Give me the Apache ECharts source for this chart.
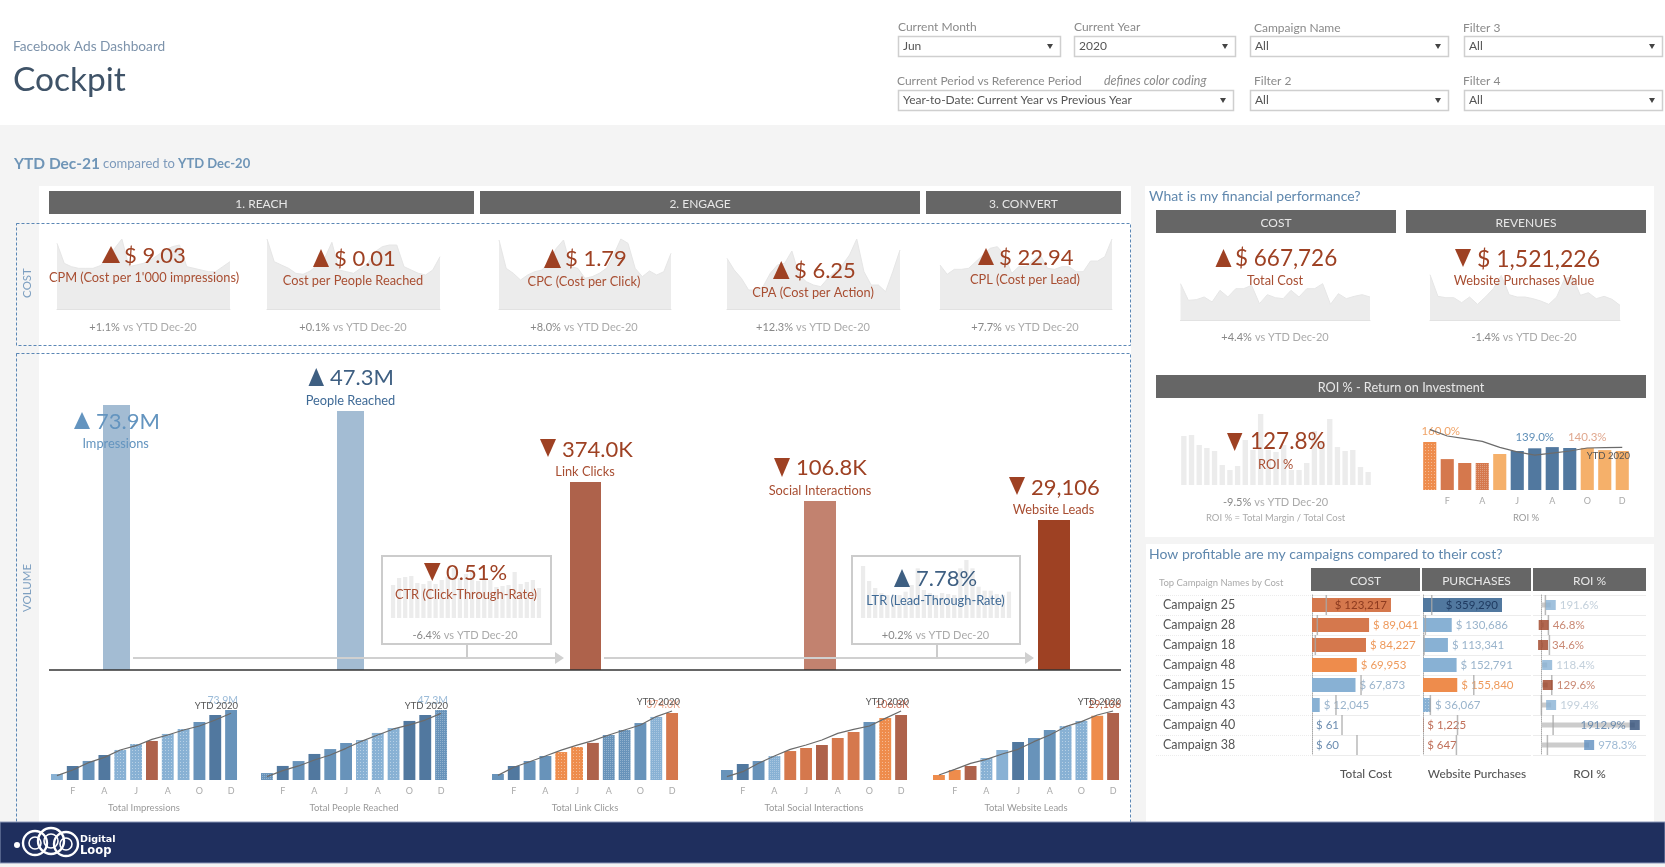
<!DOCTYPE html>
<html><head><meta charset="utf-8">
<script src="https://cdn.jsdelivr.net/npm/echarts@6/dist/echarts.min.js"></script>
<style>html,body{margin:0;padding:0;background:#f4f4f4}#c{width:1665px;height:867px}</style>
</head><body><div id="c"></div>
<script>
// ---------- DATA ----------
const months = ['J','F','M','A','M','J','J','A','S','O','N','D'];
const sparkIdx = ['1','2','3','4','5','6','7','8','9','10','11','12','13','14','15','16','17','18','19','20','21','22','23','24','25'];
// cost sparklines (relative level)
const sparkCPM = [197,137,127,122,122,122,130,152,182,210,127,132,137,147,162,177,187,192,127,122,117,112,112,127,142];
const sparkCPP = [210,142,132,122,107,104,114,132,152,200,117,112,107,122,137,172,187,192,192,127,117,107,102,117,157];
const sparkCPC = [207,122,107,87,102,112,117,142,182,207,127,122,92,97,107,122,162,210,197,122,97,114,102,112,167];
const sparkCPA = [152,117,92,57,57,67,107,132,137,174,102,82,72,67,92,112,132,162,210,112,72,72,52,112,177];
const sparkCPL = [132,104,119,119,122,142,162,182,187,162,107,127,127,147,162,122,119,127,127,112,112,144,144,157,210];
const sparkCost = [109,59,61,69,54,89,69,94,94,104,49,76,67,64,89,69,94,94,109,47,79,64,71,76,69];
const sparkRev = [136,71,67,67,52,69,47,69,94,134,76,69,69,64,57,47,69,124,129,74,82,64,71,62,44];
const sparkROI = [147,150,120,111,102,60,45,57,135,105,213,105,99,120,45,45,66,162,132,198,114,102,105,54,39];
const sparkCTR = [99,120,123,126,105,102,111,102,114,124,150,120,132,144,111,120,114,93,96,99,138,102,108,114,90];
const sparkLTR = [156,111,90,75,69,69,69,79,99,149,84,75,69,75,72,69,149,174,149,94,82,82,72,69,79];

const volumeNames = ['Impressions','People Reached','Link Clicks','Social Interactions','Website Leads'];
const volumeValues = [73900000,47300000,374000,106800,29106];

const impCur = [6.3,14.8,20.1,26.4,31.7,38.0,41.2,48.6,53.8,61.2,68.6,73.9];
const impPrev = [4.6,10.6,18.3,23.9,31.7,36.2,42.9,47.5,52.8,57.0,63.3,70.4];
const reachCur = [4.7,9.5,12.8,17.6,20.9,25.0,27.0,31.8,35.1,39.9,43.9,47.3];
const reachPrev = [2.3,6.3,9.5,13.5,16.9,21.4,26.3,30.4,34.5,37.2,40.5,45.0];
const clickCur = [33.5,78.2,106,134,156,184,207,251,279,318,352,374];
const clickPrev = [26,71,102,134,167,195,220,251,279,307,354,385];
const socialCur = [16.4,26.3,31.2,39.4,47.6,52.6,57.5,69,78.9,95.3,101.9,106.8];
const socialPrev = [5.5,13.7,27.4,39.4,50.4,57.5,65.7,76.7,83.2,88.7,101.3,113.4];
const leadCur = [2172,4344,6082,9557,13032,16507,18245,21720,23458,25630,27947,29106];
const leadPrev = [2172,4634,7240,8978,11294,13322,16652,19548,23168,25340,28236,29974];

const roiCur = [160,103,90,90,120,130,139,143,140,140.3,133,130];
const roiPrev = [202,180,171,162,142,127,116,123,130,140,141,142];

const campaigns = ['Campaign 25','Campaign 28','Campaign 18','Campaign 48','Campaign 15','Campaign 43','Campaign 40','Campaign 38'];
const campCost = [123217,89041,84227,69953,67873,12045,61,60];
const campCostRef = [22300,8300,5200,null,76500,37400,46800,70200];
const campPurch = [359290,130686,113341,152791,155840,36067,1225,647];
const campPurchRef = [39700,10700,4600,null,231000,33500,157000,152000];
const campRoi = [191.6,46.8,34.6,118.4,129.6,199.4,1912.9,978.3];
const campRoiRef = [82,144,164,null,212,0,240,123];

// ---------- STYLE ----------
const F = 'Lato';
const RED='#9e4123', REDL='#a84e32', NAVY='#3e5f82', BLUE='#6394bf', GREY='#aaaaaa', HDR='#666666';
const pal = {D:'#51789f',M:'#6893ba',L:'#88b1d4',B:'#ae624b',R:'#d5784d',O:'#ee8c4c',Y:'#f5b06a',K:'#9e4123',N:'#2f4d78',P:'#5f8fbf'};
const dots = {symbol:'rect',symbolSize:1,dashArrayX:[1,2],dashArrayY:[1,2],color:'rgba(255,255,255,.4)'};
const hash = {symbol:'rect',symbolSize:1,dashArrayX:[1,1],dashArrayY:[1,1],color:'rgba(255,255,255,.28)'};
function st(k){const s={color:pal[k[0]]}; if(k[1]==='.')s.decal=dots; if(k[1]==='#')s.decal=hash; return s;}
const impStyle = ['L','D','M','D','L.','L.','B','L.','L.','M','D','M'];
const reachStyle = ['M#','D','M','D','M','M','L.','L.','L.','D','D','M#'];
const clickStyle = ['M','D','M','M','O.','O.','B','M#','M#','M','L#','R'];
const socialStyle = ['M','D','M','L#','R','R','B','R','R','M','O.','B'];
const leadStyle = ['O','O','B','L.','L','D','M','M','L.','L.','O','B'];
const roiStyle = ['O.','R','R','R#','Y','D','D','D','D','Y','Y','Y'];

// ---------- HELPERS ----------
const g = [], grid=[], xAxis=[], yAxis=[], series=[];
function rect(x,y,w,h,fill,extra={},z=0){g.push({type:'rect',z,silent:true,shape:{x,y,width:w,height:h},style:Object.assign({fill},extra)});}
function poly(pts,fill,z=100){g.push({type:'polygon',z,silent:true,shape:{points:pts},style:{fill}});}
function up(x0,x1,y0,y1,c){poly([[x0,y1],[(x0+x1)/2,y0],[x1,y1]],c);}
function dn(x0,x1,y0,y1,c){poly([[x0,y0],[x1,y0],[(x0+x1)/2,y1]],c);}
function line(x1,y1,x2,y2,stroke,lw,z=50,dash){g.push({type:'line',z,silent:true,shape:{x1,y1,x2,y2},style:{stroke,lineWidth:lw,lineDash:dash}});}
function txt(x,y,text,size,fill,align='left',extra={}){g.push({type:'text',z:100,silent:true,style:Object.assign({x,y:y+(size>=20?1.2:0),text,fontSize:size,fontFamily:F,fill,align,verticalAlign:'middle'},extra)});}
function sub(x,y,a,rest='vs YTD Dec-20'){g.push({type:'text',z:100,silent:true,style:{x,y,text:'{a|'+a+'} {b|'+rest+'}',align:'center',verticalAlign:'middle',fontFamily:F,rich:{a:{fontSize:11,fontFamily:F,fill:'#888'},b:{fontSize:11,fontFamily:F,fill:'#aaa'}}}});}
function addGrid(l,t,w,h,xa,ya,sers){const i=grid.length;grid.push({left:l,top:t,width:w,height:h,containLabel:false});
  xAxis.push(Object.assign({gridIndex:i},xa));yAxis.push(Object.assign({gridIndex:i},ya));
  sers.forEach(s=>series.push(Object.assign({xAxisIndex:i,yAxisIndex:i},s)));}
function spark(x0,x1,base,max,data){
  addGrid(x0,base-max/3,x1-x0,max/3,
   {type:'category',data:sparkIdx,boundaryGap:false,axisLine:{lineStyle:{color:'#e2e2e2',width:1}},axisTick:{show:false},axisLabel:{show:false}},
   {type:'value',min:0,max,show:false,splitLine:{show:false}},
   [{type:'line',data,showSymbol:false,silent:true,symbol:'none',lineStyle:{color:'#e6e6e6',width:1},areaStyle:{color:'#ececec',opacity:1},z:1}]);
}
function sparkBars(x0,x1,base,max,data){
  addGrid(x0,base-max/3,x1-x0,max/3,
   {type:'category',data:sparkIdx,show:false},
   {type:'value',min:0,max,show:false,splitLine:{show:false}},
   [{type:'bar',data,barCategoryGap:'30%',silent:true,itemStyle:{color:'#ececec'},z:1}]);
}
function mini(x0,x1,yMax,cur,prev,styles,name){
  addGrid(x0-2,702,x1-x0+4,78,
   {type:'category',data:months,axisLine:{show:false},axisTick:{show:false},
    axisLabel:{interval:(i)=>i%2===1,fontSize:9,color:'#aaa',fontFamily:F,margin:7},
    name,nameLocation:'middle',nameGap:23,nameTextStyle:{fontSize:9.5,color:'#999',fontFamily:F}},
   {type:'value',min:0,max:yMax,show:false,splitLine:{show:false}},
   [{type:'bar',barCategoryGap:'25%',silent:true,data:cur.map((v,i)=>({value:v,itemStyle:st(styles[i])}))},
    {type:'line',data:prev,silent:true,symbol:'none',smooth:false,clip:false,lineStyle:{color:'#6b6b6b',width:1.2},z:5}]);
}

// ---------- PAGE BACKGROUND ----------
rect(0,0,1665,125,'#ffffff');
rect(0,125,1665,742,'#f4f4f4');
rect(39,186,1092,636,'#ffffff');
rect(1145,186,509,351,'#ffffff');
rect(1146,544,508,278,'#ffffff');
txt(13,47,'Facebook Ads Dashboard',13.7,'#7d93ab');
txt(13,79,'Cockpit',33.5,'#3f5368');
g.push({type:'text',z:100,silent:true,style:{x:14,y:164,align:'left',verticalAlign:'middle',text:'{a|YTD Dec-21} {b|compared to} {c|YTD Dec-20}',fontFamily:F,
  rich:{a:{fontSize:15.5,fontWeight:'bold',fontFamily:F,fill:'#6f95b7'},b:{fontSize:13,fontFamily:F,fill:'#7d9abb'},c:{fontSize:13,fontWeight:'bold',fontFamily:F,fill:'#6f95b7'}}}});

// filters
function drop(lx,ly,label,bx0,bx1,by,val){
  txt(lx,ly,label,12,'#8a8a8a');
  rect(bx0+.5,by+.5,bx1-bx0,20,'#ffffff',{stroke:'#cfcfcf',lineWidth:1.5});
  txt(bx0+5,by+10.5,val,12,'#555');
  dn(bx1-13,bx1-7,by+8,by+13,'#444');
}
drop(898,27,'Current Month',898,1060,36,'Jun');
drop(1074,27,'Current Year',1074,1235,36,'2020');
drop(1254,28,'Campaign Name',1250,1448,36,'All');
drop(1463,28,'Filter 3',1464,1662,36,'All');
drop(897,81,'Current Period vs Reference Period',898,1233,90,'Year-to-Date: Current Year vs Previous Year');
txt(1104,81,'defines color coding',12.5,'#8a8a8a','left',{fontStyle:'italic'});
drop(1254,81,'Filter 2',1250,1448,90,'All');
drop(1463,81,'Filter 4',1464,1662,90,'All');

// section headers
function hdr(x0,x1,y0,y1,t,size=12){rect(x0,y0,x1-x0,y1-y0,HDR);txt((x0+x1)/2,(y0+y1)/2+1.5,t,size,'#e8e8e8','center');}
hdr(49,474,191,214,'1. REACH');hdr(480,920,191,214,'2. ENGAGE');hdr(926,1121,191,214,'3. CONVERT');
hdr(1156,1396,210,233,'COST');hdr(1406,1646,210,233,'REVENUES');hdr(1156,1646,375,398,'ROI % - Return on Investment',12.7);
hdr(1311,1420,568,591,'COST');hdr(1422,1531,568,591,'PURCHASES');hdr(1533,1646,568,591,'ROI %');
txt(1149,196,'What is my financial performance?',14,'#5f87ad');
txt(1149,554,'How profitable are my campaigns compared to their cost?',14,'#5f87ad');
txt(1159,583,'Top Campaign Names by Cost',9.5,'#aaaaaa');

// dashed frames
rect(16.5,223.5,1114,122,'rgba(0,0,0,0)',{stroke:'#5b87b5',lineWidth:1,lineDash:[3,2]},1);
rect(16.5,353.5,1114,480,'rgba(0,0,0,0)',{stroke:'#5b87b5',lineWidth:1,lineDash:[3,2]},1);
g.push({type:'text',z:100,silent:true,x:27,y:283,rotation:Math.PI/2,style:{x:0,y:0,text:'COST',fontSize:11.5,fontFamily:F,fill:'#7d9fc0',align:'center',verticalAlign:'middle'}});
g.push({type:'text',z:100,silent:true,x:27,y:588,rotation:Math.PI/2,style:{x:0,y:0,text:'VOLUME',fontSize:11.5,fontFamily:F,fill:'#7d9fc0',align:'center',verticalAlign:'middle'}});

// ---------- COST KPI ----------
spark(57,230,309,213,sparkCPM);spark(267,440,309,213,sparkCPP);spark(499,671,309,213,sparkCPC);spark(727,900,309,213,sparkCPA);spark(940,1112,309,213,sparkCPL);
spark(1180.5,1370,320,110,sparkCost);spark(1430,1620,320,138,sparkRev);

const vol=22.5, lab=12.8;
up(102,120,246,263,RED);txt(124,255,'$ 9.03',22,RED);txt(144,278,"CPM (Cost per 1'000 impressions)",lab,REDL,'center');sub(143,327,'+1.1%');
up(313,329,249,267,RED);txt(334,258,'$ 0.01',22,RED);txt(353,281,'Cost per People Reached',lab,REDL,'center');sub(353,327,'+0.1%');
up(544,561,249,268,RED);txt(565,258,'$ 1.79',22,RED);txt(584,282,'CPC (Cost per Click)',lab,REDL,'center');sub(584,327,'+8.0%');
up(773,789.5,261,279,RED);txt(794,270,'$ 6.25',22,RED);txt(813,293,'CPA (Cost per Action)',lab,REDL,'center');sub(813,327,'+12.3%');
up(978,994,248,265,RED);txt(999,257,'$ 22.94',22,RED);txt(1025,280,'CPL (Cost per Lead)',lab,REDL,'center');sub(1025,327,'+7.7%');
up(1215.5,1231.5,249,267,RED);txt(1235,258,'$ 667,726',vol,RED);txt(1275,281,'Total Cost',lab,REDL,'center');sub(1275,337,'+4.4%');
dn(1455,1471,249,267,RED);txt(1477,258,'$ 1,521,226',23,RED);txt(1524,281,'Website Purchases Value',lab,REDL,'center');sub(1524,337,'-1.4%');

// ---------- VOLUME ----------
const volBox=[[103,130,405],[337,364,411],[570,601,482],[804,836,501],[1038,1070,520]];
const volCol=['#a3bcd3','#a3bcd3','#ae624b','#c2826f','#9e4123'];
volumeValues.forEach((v,i)=>{const b=volBox[i];
  addGrid(b[0],b[2],b[1]-b[0],670-b[2],
    {type:'category',data:[volumeNames[i]],show:false},
    {type:'value',min:0,max:v,show:false,splitLine:{show:false}},
    [{type:'bar',data:[v],barWidth:'100%',silent:true,itemStyle:{color:volCol[i]},z:2}]);
});
line(49,670,1121,670,'#333333',1.5,60);
// arrows
line(133,658,556,658,'#d0d0d0',2);poly([[555,652],[564,658],[555,664]],'#d0d0d0',50);
line(604,658,1026,658,'#d0d0d0',2);poly([[1025,652],[1034,658],[1025,664]],'#d0d0d0',50);
// rate boxes
rect(382,556,169,88,'#ffffff',{stroke:'#cccccc',lineWidth:2});line(467,644,467,657,'#cccccc',2);
rect(852,556,168,88,'#ffffff',{stroke:'#cccccc',lineWidth:2});line(937,644,937,657,'#cccccc',2);
sparkBars(390,542,618,174,sparkCTR);
sparkBars(860,1012,618,174,sparkLTR);

up(74,90,412,429,BLUE);txt(96,421,'73.9M',22,BLUE);txt(115.6,444,'Impressions',lab,BLUE,'center');
up(308.5,324,368,386,NAVY);txt(330,377,'47.3M',22,NAVY);txt(350.5,401,'People Reached',lab,'#3f6a96','center');
dn(540,556,439,457,RED);txt(562,449,'374.0K',22,RED);txt(585,472,'Link Clicks',lab,REDL,'center');
dn(774,790,458,477,RED);txt(796,467,'106.8K',22,RED);txt(820,491,'Social Interactions',lab,REDL,'center');
dn(1009,1025,477,495,RED);txt(1031,487,'29,106',22,RED);txt(1053.5,510,'Website Leads',lab,REDL,'center');
dn(424,440.5,563,581,RED);txt(446,572,'0.51%',22,RED);txt(466,595,'CTR (Click-Through-Rate)',lab,REDL,'center');sub(465,635,'-6.4%');
up(894,910,569,587,NAVY);txt(916,578,'7.78%',22,NAVY);txt(935.5,601,'LTR (Lead-Through-Rate)',lab,'#3f6a96','center');sub(935.5,635,'+0.2%');

// mini charts
mini(51,237,82.3,impCur,impPrev,impStyle,'Total Impressions');
mini(261,447,52.7,reachCur,reachPrev,reachStyle,'Total People Reached');
mini(492,678,435.4,clickCur,clickPrev,clickStyle,'Total Link Clicks');
mini(721,907,128.2,socialCur,socialPrev,socialStyle,'Total Social Interactions');
mini(933,1119,33885,leadCur,leadPrev,leadStyle,'Total Website Leads');
function endText(x,v,vc,vy,yy){txt(x,vy,v,10.5,vc,'right');txt(x,yy,'YTD 2020',9.5,'#555','right');}
endText(238,'73.9M','#9bbbd8',701,706);
endText(448,'47.3M','#9bbbd8',701,706);
endText(680,'374.0K','#e9a58a',705,702);
endText(909,'106.8K','#c9725a',705,702);
endText(1121,'29,106','#b5573c',705,702);

// ---------- ROI ----------
sparkBars(1180,1372,485,213,sparkROI);
dn(1227,1242.4,433,451,RED);txt(1250,441,'127.8%',vol,RED);txt(1275.6,465,'ROI %',lab,REDL,'center');
sub(1275.6,502,'-9.5%');txt(1275.6,518,'ROI % = Total Margin / Total Cost',9.5,'#aaa','center');
const roiLabels={0:['160.0%','#f0a468',[11,0]],6:['139.0%','#5f8fb8',[0,0]],9:['140.3%','#e0a88f',[0,0]]};
addGrid(1421,425,210,65,
  {type:'category',data:months,axisLine:{show:false},axisTick:{show:false},
   axisLabel:{interval:(i)=>i%2===1,fontSize:9,color:'#aaa',fontFamily:F,margin:7},
   name:'ROI %',nameLocation:'middle',nameGap:23,nameTextStyle:{fontSize:9.5,color:'#999',fontFamily:F}},
  {type:'value',min:0,max:216.7,show:false,splitLine:{show:false}},
  [{type:'bar',barCategoryGap:'25%',silent:true,data:roiCur.map((v,i)=>{const o={value:v,itemStyle:st(roiStyle[i])};
     if(roiLabels[i])o.label={show:true,position:'top',formatter:roiLabels[i][0],color:roiLabels[i][1],offset:roiLabels[i][2],fontSize:11.5,fontFamily:F};return o;})},
   {type:'line',data:roiPrev,silent:true,symbol:'none',clip:false,lineStyle:{color:'#6b6b6b',width:1.2},z:5}]);
txt(1630,456,'YTD 2020',9.5,'#555','right');

// ---------- CAMPAIGN TABLE ----------
const sepLine={show:true,lineStyle:{color:'#ececec',width:1},interval:0};
const lblF={fontSize:11.5,fontFamily:F};
addGrid(1156,595,155,160,
  {type:'value',show:false,splitLine:{show:false}},
  {type:'category',data:campaigns,inverse:true,axisLine:{show:false},axisTick:{show:false},
   axisLabel:{inside:true,margin:7,fontSize:12.5,color:'#555',fontFamily:F},splitLine:{show:true,lineStyle:{color:'#ececec',type:'dotted'},interval:0}},[]);
const plainX=(name)=>({type:'value',min:0,axisLine:{show:false},axisTick:{show:false},axisLabel:{show:false},splitLine:{show:false},
  name,nameLocation:'middle',nameGap:13,nameTextStyle:{fontSize:11.8,fontWeight:500,color:'#555',fontFamily:F}});
const catY=()=>({type:'category',data:campaigns,inverse:true,axisTick:{show:false},axisLabel:{show:false},
  axisLine:{show:true,lineStyle:{color:'#aaa',type:'dotted',width:1}},splitLine:sepLine});
const costCol=['R','R','R','O','L','L','D','D'],costLbl=['#8c3a1f','#ee9a5c','#ee9a5c','#ee9a5c','#9ab4cc','#9ab4cc','#6c8db0','#6c8db0'];
const purCol=['D','L','L','L','O','L.','K','K'],purLbl=['#1f3a60','#9ab4cc','#9ab4cc','#9ab4cc','#ee9a5c','#9ab4cc','#c0705a','#c0705a'];
const roiCol=['L#','K','K','L#','K','L#','N#','P'],roiLbl=['#b4c4d2','#bb6a50','#bb6a50','#b4c4d2','#bb6a50','#b4c4d2','#4f78a4','#87a9c9'];
const money=v=>'$ '+v.toLocaleString('en-US');
function tick(ref){return {type:'scatter',data:ref.map((v,i)=>[v==null?NaN:v,i]),symbol:'rect',symbolSize:[1.5,20],silent:true,itemStyle:{color:'#a8a8a8'},z:6};}
function hbar(vals,cols,lbls){return {type:'bar',barWidth:14,silent:true,z:3,
  data:vals.map((v,i)=>({value:v,itemStyle:st(cols[i]),label:Object.assign({show:true,formatter:money(v),color:lbls[i],position:(i===0)?'insideRight':'right',distance:4},lblF)}))};}
addGrid(1312,595,108,160,Object.assign(plainX('Total Cost'),{max:168500}),catY(),[hbar(campCost,costCol,costLbl),tick(campCostRef)]);
addGrid(1423,595,108,160,Object.assign(plainX('Website Purchases'),{max:491200}),catY(),[hbar(campPurch,purCol,purLbl),tick(campPurchRef)]);
addGrid(1533,595,113,160,Object.assign(plainX('ROI %'),{min:-172,max:2143}),catY(),[
  {type:'bar',barWidth:5,silent:true,data:campRoi,itemStyle:{color:'#cccccc'},z:2},
  tick(campRoiRef),
  {type:'scatter',symbol:'rect',symbolSize:10,silent:true,z:7,data:campRoi.map((v,i)=>({value:[v,i],itemStyle:st(roiCol[i]),
     label:Object.assign({show:true,formatter:v.toFixed(1)+'%',color:roiLbl[i],position:i===6?'left':'right',distance:4},lblF)}))}]);

// ---------- FOOTER ----------
rect(0,822,1665,41,'#1f2f5e',{stroke:'#8a97b8',lineWidth:1},3);
function ring(cx,cy,r,lw){g.push({type:'circle',z:101,silent:true,shape:{cx,cy,r},style:{fill:'none',stroke:'#ffffff',lineWidth:lw}});}
g.push({type:'circle',z:101,silent:true,shape:{cx:17,cy:845,r:3},style:{fill:'#ffffff'}});
ring(35,843,12,2.4);ring(51,841,13,2.4);ring(66,844,12,2.4);ring(51,841,7,1.6);ring(35,843,6,1.6);ring(66,844,6,1.6);
txt(80,840,'Digital',9.5,'#ffffff','left',{fontWeight:'bold',fontFamily:'DejaVu Sans'});txt(80,851,'Loop',11.5,'#ffffff','left',{fontWeight:'bold',fontFamily:'DejaVu Sans'});

// ---------- CHART ----------
const chart = echarts.init(document.getElementById('c'));
chart.setOption({animation:false,backgroundColor:'#f4f4f4',graphic:{elements:g},grid,xAxis,yAxis,series});
</script></body></html>
